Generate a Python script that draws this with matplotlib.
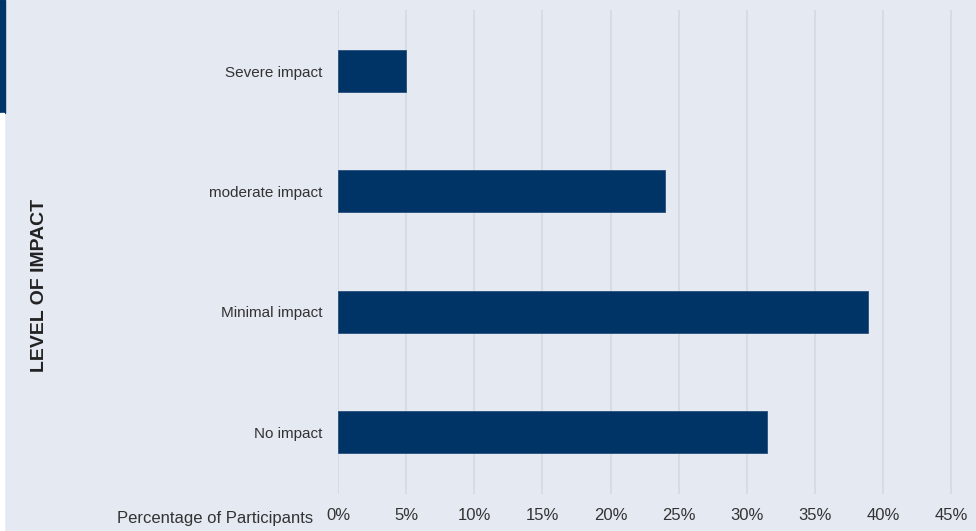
import matplotlib.pyplot as plt
from matplotlib.patches import Rectangle

categories = ["No impact", "Minimal impact", "moderate impact", "Severe impact"]
values = [31.5, 38.9, 24.0, 5.0]
xticks = [0, 5, 10, 15, 20, 25, 30, 35, 40, 45]

bg = "#e4e9f2"
navy = "#003366"
txt = "#333333"
plt.rcParams["font.family"] = ["Liberation Sans", "DejaVu Sans"]

fig = plt.figure(figsize=(9.76, 5.31), dpi=100, facecolor=bg)
ax = fig.add_axes([338 / 976, 1 - 494 / 531, 1 - 338 / 976, 484 / 531])
ax.set_facecolor(bg)

ax.barh(range(len(categories)), values, height=0.35, color=navy,
        edgecolor="#2a4f7a", linewidth=0.6, zorder=3)

ax.set_xlim(0, 46.8)
ax.set_ylim(-0.515, 3.507)
ax.set_xticks(xticks)
ax.set_xticklabels([f"{t}%" for t in xticks])
ax.set_yticks(range(len(categories)))
ax.set_yticklabels(categories)
ax.tick_params(axis="x", length=0, pad=10, labelsize=12, labelcolor=txt)
ax.tick_params(axis="y", length=0, pad=11.5, labelsize=11, labelcolor=txt)
ax.grid(axis="x", color="#d5d9e0", linewidth=1.2, zorder=0)
ax.grid(axis="y", visible=False)
for s in ax.spines.values():
    s.set_visible(False)

fig.text(313 / 976, 1 - 518 / 531, "Percentage of Participants", ha="right",
         va="center", fontsize=12, color=txt)
fig.text(40 / 976, 1 - 285 / 531, "LEVEL OF IMPACT", rotation=90, ha="center",
         va="center", fontsize=14, fontweight="bold", color="#222222")

# accent stripe at left edge
fig.patches.append(Rectangle((0, 1 - 113 / 531), 5 / 976, 113 / 531,
                             transform=fig.transFigure, color=navy, zorder=5))
fig.patches.append(Rectangle((0, 0), 4 / 976, 1 - 113 / 531,
                             transform=fig.transFigure, color="white", zorder=5))

fig.savefig("out.png", dpi=100, facecolor=bg)
